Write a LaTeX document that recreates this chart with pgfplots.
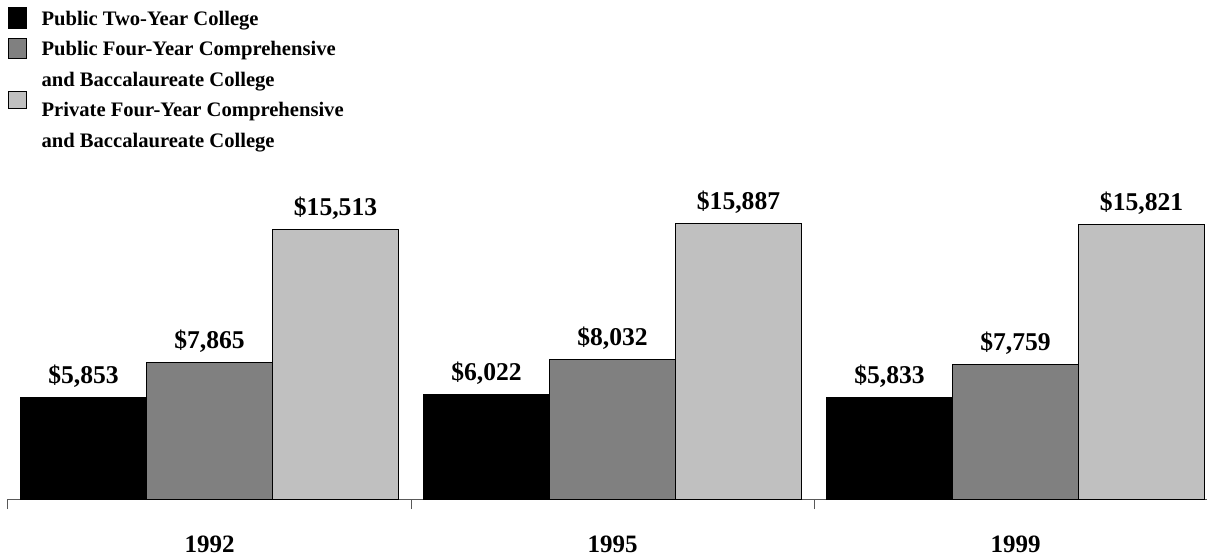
\documentclass[border=0pt]{standalone}
\usepackage{pgfplots}
\pgfplotsset{compat=1.18}
\usepackage{fontspec}
\setmainfont{Liberation Serif}

\definecolor{midgray}{RGB}{128,128,128}
\definecolor{lightgray}{RGB}{192,192,192}

\pgfplotsset{
  sqleg/.style={legend image code/.code={
    \draw[##1,/tikz/.cd,draw=black,line width=0.5pt] (0pt,-1.5pt) rectangle (8.8pt,8.8pt);}},
  sqlegup/.style={legend image code/.code={
    \draw[##1,/tikz/.cd,draw=black,line width=0.5pt,overlay] (0pt,4.3pt) rectangle (8.8pt,12.8pt);}},
}

\begin{document}
\begin{tikzpicture}
\begin{axis}[
  at={(4pt,29.5pt)}, anchor=south west,
  scale only axis,
  width=599.5pt, height=173.5pt,
  ybar, bar width=63pt, ybar=0pt,
  xmin=-0.5, xmax=2.475,
  ymin=0, ymax=20000,
  axis y line=none,
  axis x line*=bottom,
  axis line style={black!65, line width=0.5pt},
  xtick={0,1,2},
  xticklabels={\textbf{1992},\textbf{1995},\textbf{1999}},
  major tick length=0pt,
  minor xtick={-0.5,0.5,1.5},
  minor tick length=5pt,
  tick align=outside,
  minor tick style={black!65, line width=0.5pt},
  xticklabel style={font=\fontsize{12.5}{15}\selectfont\bfseries, yshift=-15pt},
  nodes near coords={\textbf{\$\pgfmathprintnumber[fixed, precision=0, 1000 sep={,}, assume math mode=true]{\pgfplotspointmeta}}},
  nodes near coords style={font=\fontsize{12.8}{15}\selectfont\bfseries, black, yshift=1.5pt},
  legend style={at={(0,1.4265)}, anchor=north west, draw=none, fill=none,
    inner sep=0pt, outer sep=0pt, font=\fontsize{10.3}{15}\selectfont\bfseries,
    cells={anchor=base west},
    nodes={inner sep=0pt, text height=10.5pt, text depth=4.5pt},
    column sep=7.5pt, row sep=0.3pt},
]
\addplot[fill=black, draw=black, line width=0.5pt, sqleg] coordinates {(0,5853) (1,6022) (2,5833)};
\addlegendentry{Public Two-Year College}
\addplot[fill=midgray, draw=black, line width=0.5pt, sqleg] coordinates {(0,7865) (1,8032) (2,7759)};
\addlegendentry{Public Four-Year Comprehensive}
\addlegendimage{empty legend}
\addlegendentry{and Baccalaureate College}
\addplot[fill=lightgray, draw=black, line width=0.5pt, sqlegup] coordinates {(0,15513) (1,15887) (2,15821)};
\addlegendentry{Private Four-Year Comprehensive}
\addlegendimage{empty legend}
\addlegendentry{and Baccalaureate College}
\end{axis}
\pgfresetboundingbox
\useasboundingbox (0,0) rectangle (603.5pt,279pt);
\end{tikzpicture}
\end{document}
